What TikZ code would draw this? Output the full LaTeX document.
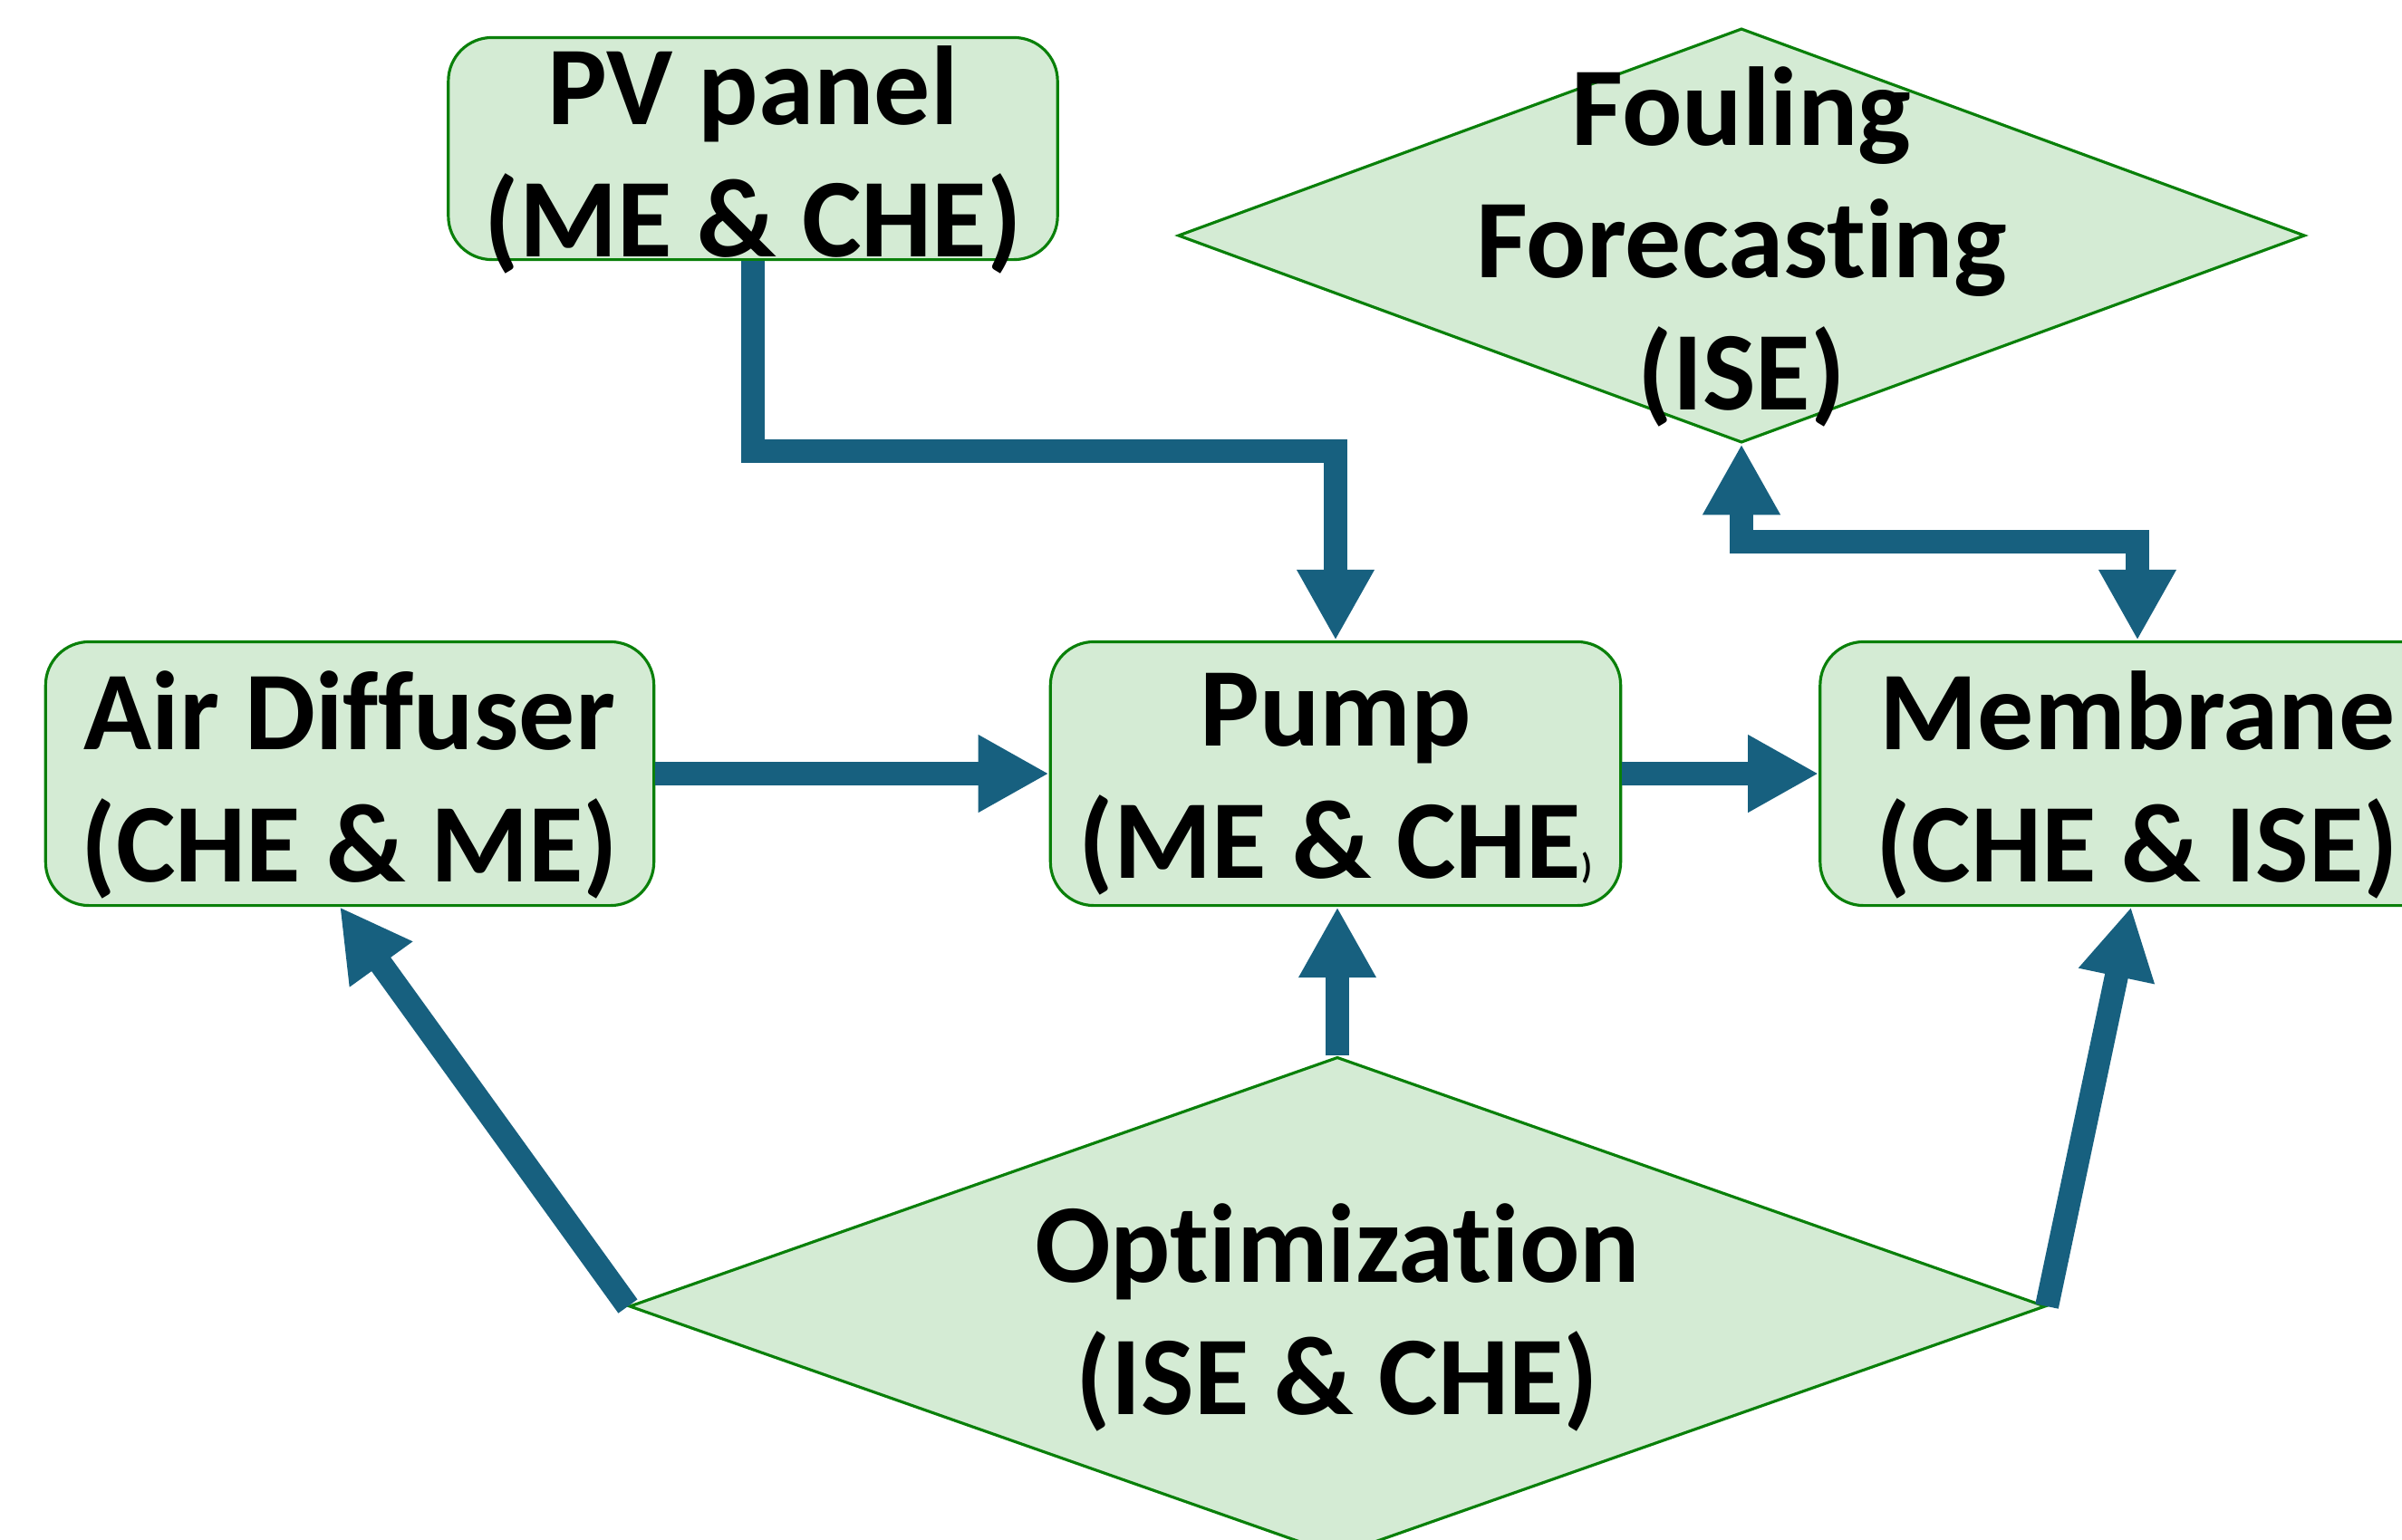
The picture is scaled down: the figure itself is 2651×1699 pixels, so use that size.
\documentclass[tikz,border=0pt]{standalone}
\usepackage{fontspec}
\setmainfont{Carlito}[Ligatures=NoCommon]
\usetikzlibrary{arrows.meta,positioning,calc,shapes.geometric}
\definecolor{wtflow}{HTML}{17607F}
\definecolor{wtedge}{HTML}{0A800A}
\definecolor{wtfill}{HTML}{D4EBD4}
\newcommand{\wtfont}{\fontsize{35.2}{41.5}\selectfont\bfseries}
\tikzset{
  wtbox/.style={draw=wtedge, fill=wtfill, line width=0.9pt, rounded corners=0.48cm,
                inner sep=0pt, minimum height=2.91cm},
  wtdiamond/.style={diamond, draw=wtedge, fill=wtfill, line width=0.9pt, inner sep=0pt},
  wttext/.style={font=\wtfont, align=center, inner sep=0pt, yshift=-0.12cm},
  wtarrow/.style={draw=wtflow, line width=7.4pt, -{Triangle[length=0.78cm,width=0.80cm]}},
  wtboth/.style={wtarrow, {Triangle[length=0.78cm,width=0.80cm]}-{Triangle[length=0.78cm,width=0.80cm]}},
}

\begin{document}
\begin{tikzpicture}[x=0.01cm,y=-0.01cm]
  \useasboundingbox (0,0) rectangle (2651,1699);
  \clip (0,0) rectangle (2651,1699);

  % units
  \node[wtbox, minimum width=6.72cm, minimum height=2.45cm,
        label={[wttext]center:{PV panel\\(ME \& CHE)}}] (pv) at (831,164) {};
  \node[wtbox, minimum width=6.71cm,
        label={[wttext]center:{Air Diffuser\\(CHE \& ME)}}] (air) at (386,854) {};
  \node[wtbox, minimum width=6.29cm,
        label={[wttext]center:{Pump\\(ME \& CHE{\fontsize{11}{11}\selectfont)}}}] (pump) at (1474,854) {};
  \node[wtbox, minimum width=7.00cm,
        label={[wttext]center:{Membrane\\(CHE \& ISE)}}] (mem) at (2359,854) {};

  % decisions
  \node[wtdiamond, minimum width=12.43cm, minimum height=4.57cm,
        label={[wttext]center:{Fouling\\Forecasting\\(ISE)}}] (foul) at (1922,260) {};
  \node[wtdiamond, minimum width=15.62cm, minimum height=5.50cm,
        label={[wttext]center:{Optimization\\(ISE \& CHE)}}] (opt) at (1476,1442) {};

  % flows
  \draw[wtarrow] (pv.south) -- ++(0,210) -| (pump.north);
  \draw[wtarrow] (air.east) -- (pump.west);
  \draw[wtarrow] (pump.east) -- (mem.west);
  \draw[wtboth] (foul.south) -- ++(0,108) -| (mem.north);
  \draw[wtarrow] (opt.north) -- (opt.north |- pump.south);
  \draw[wtarrow] (opt.west) -- ([xshift=-0.11cm]air.south);
  \draw[wtarrow] (opt.east) -- ([xshift=-0.07cm]mem.south);
\end{tikzpicture}
\end{document}
